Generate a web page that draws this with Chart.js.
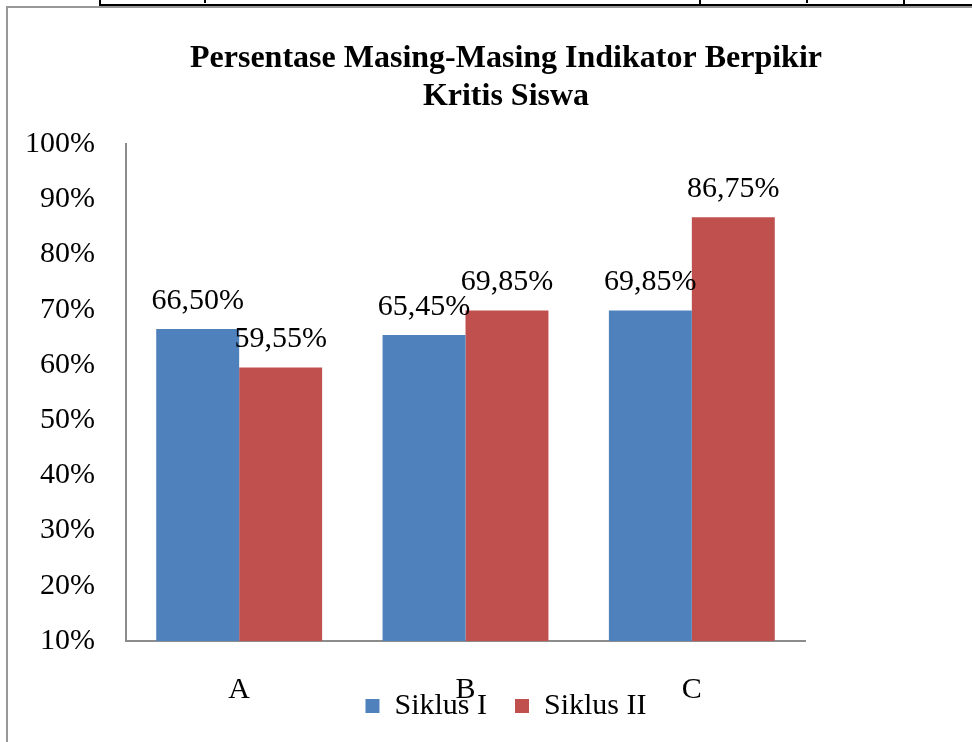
<!DOCTYPE html>
<html>
<head>
<meta charset="utf-8">
<script src="https://cdn.jsdelivr.net/npm/chart.js@4.4.1/dist/chart.umd.min.js"></script>
<style>
  html, body { margin: 0; padding: 0; background: #fff; overflow: hidden; }
  #wrap { position: relative; width: 972px; height: 742px; overflow: hidden; }
  #chart { position: absolute; left: 0; top: 0; }
  .ln { position: absolute; }
</style>
</head>
<body>
<div id="wrap">
  <canvas id="chart" width="1012" height="799"></canvas>
  <!-- bits of the table above the figure -->
  <div class="ln" style="left:99px;top:4px;width:873px;height:2px;background:#000"></div>
  <div class="ln" style="left:99px;top:0;width:2px;height:5px;background:#000"></div>
  <div class="ln" style="left:699px;top:0;width:2px;height:5px;background:#000"></div>
  <div class="ln" style="left:903px;top:0;width:2px;height:5px;background:#000"></div>
  <div class="ln" style="left:204px;top:0;width:2px;height:3px;background:#000"></div>
  <div class="ln" style="left:806px;top:0;width:2px;height:3px;background:#000"></div>
  <!-- gray frame -->
  <div class="ln" style="left:6px;top:6px;width:966px;height:2px;background:#989898"></div>
  <div class="ln" style="left:6px;top:6px;width:2px;height:736px;background:#989898"></div>
</div>
<script>
  const categories = ["A", "B", "C"];
  const siklus1 = [66.50, 65.45, 69.85];
  const siklus2 = [59.55, 69.85, 86.75];
  const yTicks = [10, 20, 30, 40, 50, 60, 70, 80, 90, 100];

  const serif = "'Liberation Serif', 'Times New Roman', serif";

  // value labels above the bars, with comma decimals
  const barLabels = {
    id: "barLabels",
    afterDatasetsDraw(chart) {
      const ctx = chart.ctx;
      ctx.save();
      ctx.font = "30px " + serif;
      ctx.fillStyle = "#000";
      ctx.textAlign = "center";
      ctx.textBaseline = "middle";
      chart.data.datasets.forEach((ds, i) => {
        chart.getDatasetMeta(i).data.forEach((bar, j) => {
          const txt = ds.data[j].toFixed(2).replace(".", ",") + "%";
          ctx.fillText(txt, bar.x, bar.y - 28);
        });
      });
      ctx.restore();
    }
  };

  // Excel let the legend sit on top of the category labels, so pull it up
  const legendUp = {
    id: "legendUp",
    afterLayout(chart) {
      const lg = chart.legend;
      const dy = 697 - (lg.top + lg.bottom) / 2;
      lg.top += dy;
      lg.bottom += dy;
    }
  };

  let chart = new Chart(document.getElementById("chart"), {
    type: "bar",
    data: {
      labels: categories,
      datasets: [
        {
          label: "Siklus I",
          data: siklus1,
          backgroundColor: "#4F81BD",
          borderWidth: 0,
        },
        {
          label: "Siklus II",
          data: siklus2,
          backgroundColor: "#C0504D",
          borderWidth: 0,
        },
      ],
    },
    options: {
      responsive: false,
      animation: false,
      categoryPercentage: 0.733,
      barPercentage: 1,
      layout: {
        padding: 0
      },
      plugins: {
        tooltip: { enabled: false },
        title: {
          display: true,
          text: ["Persentase Masing-Masing Indikator Berpikir", "Kritis Siswa"],
          color: "#000",
          font: { family: serif, size: 32, weight: "bold", lineHeight: 1.19 },
          padding: { top: 40, bottom: 28 },
        },
        legend: {
          position: "bottom",
          labels: {
            color: "#000",
            font: { family: serif, size: 30 },
            boxWidth: 14,
            boxHeight: 14,
            padding: 28,
          },
        },
      },
      scales: {
        x: {
          grid: { display: false },
          border: { display: true, color: "#8c8c8c", width: 2 },
          ticks: {
            color: "#000",
            font: { family: serif, size: 30 },
            padding: 23,
          },
        },
        y: {
          min: 10,
          max: 100,
          grid: { display: false, drawTicks: false },
          border: { display: true, color: "#8c8c8c", width: 2 },
          afterBuildTicks(scale) {
            scale.ticks = yTicks.map((v) => ({ value: v }));
          },
          ticks: {
            color: "#000",
            font: { family: serif, size: 30 },
            padding: 31,
            callback: (v) => v + "%",
          },
          afterFit(scale) {
            scale.width = 126; // plot starts at x = 126
          },
        },
        yRight: {
          position: "right",
          display: true,
          grid: { display: false },
          border: { display: false },
          ticks: { display: false },
          afterFit(scale) {
            scale.width = 207; // empty space right of the plot
          },
        },
      },
    },
    plugins: [barLabels, legendUp],
  });
</script>
</body>
</html>
